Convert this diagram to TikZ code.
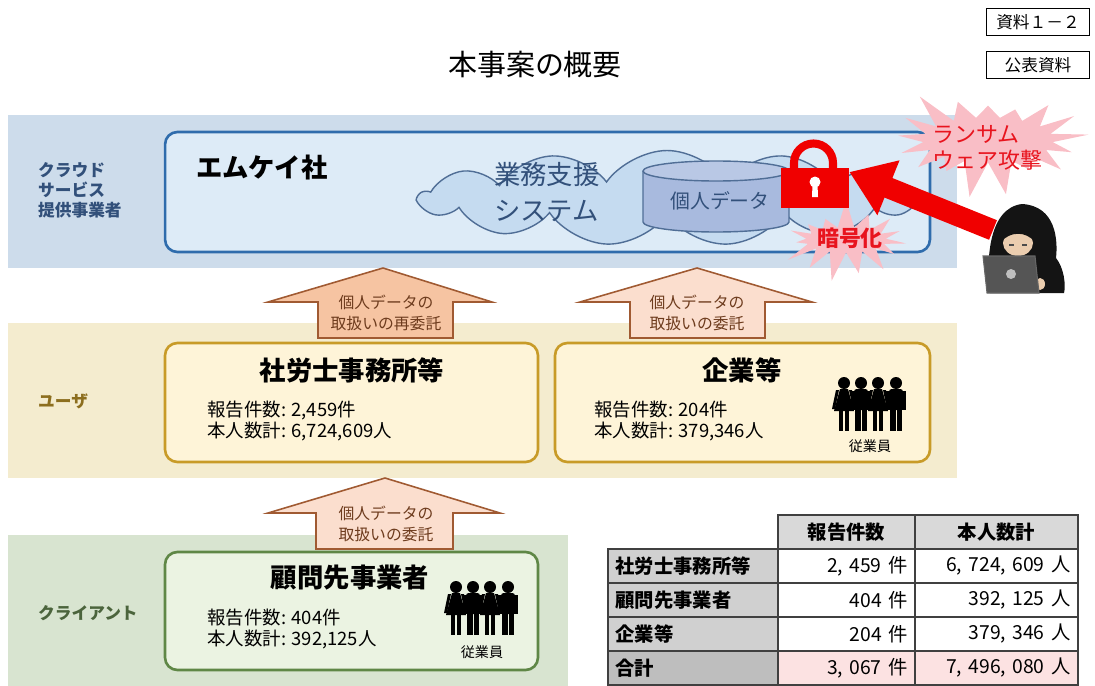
\documentclass[tikz,border=0pt]{standalone}
\usepackage{fontspec}
\setmainfont{Noto Sans CJK JP}
\usetikzlibrary{shapes.symbols,shapes.geometric,arrows.meta,positioning}

\definecolor{cloudband}{RGB}{205,220,235}
\definecolor{cloudboxfill}{RGB}{221,235,247}
\definecolor{cloudboxline}{RGB}{47,108,172}
\definecolor{cloudfill}{RGB}{197,219,240}
\definecolor{cloudline}{RGB}{80,110,150}
\definecolor{cloudtxt}{RGB}{50,80,122}
\definecolor{dbfill}{RGB}{168,186,222}
\definecolor{userband}{RGB}{244,236,207}
\definecolor{userfill}{RGB}{254,244,216}
\definecolor{userline}{RGB}{200,155,40}
\definecolor{usertxt}{RGB}{140,110,30}
\definecolor{clientband}{RGB}{216,228,208}
\definecolor{clientfill}{RGB}{235,243,226}
\definecolor{clientline}{RGB}{95,135,70}
\definecolor{clienttxt}{RGB}{75,100,60}
\definecolor{arrowdark}{RGB}{246,196,162}
\definecolor{arrowlight}{RGB}{251,222,206}
\definecolor{arrowline}{RGB}{160,90,50}
\definecolor{arrowtxt}{RGB}{110,60,30}
\definecolor{burstpink}{RGB}{249,190,198}
\definecolor{alertred}{RGB}{232,20,30}
\definecolor{lockred}{RGB}{240,0,0}
\definecolor{skin}{RGB}{235,205,175}
\definecolor{laptop}{RGB}{85,85,85}
\definecolor{headgray}{RGB}{217,217,217}
\definecolor{labelgray}{RGB}{208,208,208}
\definecolor{sumgray}{RGB}{190,190,190}
\definecolor{sumpink}{RGB}{252,226,226}

\tikzset{
  % four staff members holding hands
  woman/.pic={
    \fill (0,-21) circle[radius=6];
    \fill (-4,-15) -- (4,-15) -- (10,7) -- (-10,7) -- cycle;
    \fill (-5,5) rectangle (-1,27);
    \fill (1,5) rectangle (5,27);
    \fill (-8,-14) -- (-5,-14) -- (-9,5) -- (-12,5) -- cycle;
    \fill (8,-14) -- (5,-14) -- (9,5) -- (12,5) -- cycle;
  },
  man/.pic={
    \fill (0,-21) circle[radius=6];
    \fill[rounded corners=1.5pt] (-7,-15) rectangle (7,6);
    \fill (-6,5) rectangle (-0.5,27);
    \fill (0.5,5) rectangle (6,27);
    \fill (-10,-13) rectangle (-6,6);
    \fill (6,-13) rectangle (10,6);
  },
  staff/.pic={
    \pic at (-26,0) {woman};
    \pic at (-9,0) {man};
    \pic at (8,0) {woman};
    \pic at (26,0) {man};
  },
}

\begin{document}
\begin{tikzpicture}[
    x=0.02cm, y=-0.02cm,
    corpbox/.style={draw, rounded corners=7pt, line width=1.5pt},
    boxtitle/.style={font=\bfseries\fontsize{15}{18}\selectfont},
    figures/.style={anchor=west, align=left, font=\fontsize{10.5}{12.5}\selectfont},
    sidelabel/.style={anchor=west, align=left, font=\bfseries\fontsize{9.5}{11.3}\selectfont},
    arrowtext/.style={align=center, text=arrowtxt, font=\fontsize{9}{12}\selectfont},
    bigarrow/.style={draw=arrowline, line width=0.9pt},
    burst/.style={starburst, fill=burstpink, draw=none, text=alertred, inner sep=0pt},
    staffnote/.style={font=\fontsize{8}{9}\selectfont},
    tag/.style={draw, line width=1.1pt, minimum width=2.06cm, minimum height=0.54cm,
      inner sep=0pt, font=\fontsize{9.5}{11}\selectfont},
    cell/.style={draw=black!75, line width=0.8pt, minimum height=0.68cm, inner sep=0pt,
      font=\fontsize{11}{13}\selectfont},
    namecell/.style={cell, minimum width=3.4cm, text width=3.1cm, align=left, font=\bfseries\fontsize{11}{13}\selectfont},
    countcell/.style={cell, minimum width=2.74cm, text width=2.44cm, align=right},
    personcell/.style={cell, minimum width=3.26cm, text width=2.96cm, align=right},
]
\useasboundingbox (0,0) rectangle (1095,686);

% heading and tags
\node[font=\fontsize{16.5}{20}\selectfont] (title) at (535,65) {本事案の概要};
\node[tag] (docno) at (1038,22) {資料１－２};
\node[tag] (public) at (1038,65) {公表資料};

% bands
\fill[cloudband] (8,115) rectangle (957,268);
\fill[userband] (8,323) rectangle (957,478);
\fill[clientband] (8,535) rectangle (568,690);

\node[sidelabel, text=cloudtxt] (cloudlabel) at (32,190) {クラウド\\サービス\\提供事業者};
\node[sidelabel, text=usertxt] (userlabel) at (32,401) {ユーザ};
\node[sidelabel, text=clienttxt] (clientlabel) at (32,613) {クライアント};

% cloud provider
\node[corpbox, draw=cloudboxline, fill=cloudboxfill, minimum width=15.3cm, minimum height=2.4cm] (mk) at (547.5,192) {};
\node[boxtitle, anchor=west] (mkname) at (190,168) {エムケイ社};

\node[cloud, cloud puffs=13, cloud puff arc=110, aspect=5, fill=cloudfill, draw=cloudline,
  line width=0.8pt, minimum width=9.9cm, minimum height=1.9cm] (system) at (667,198) {};
\node[anchor=west, align=left, text=cloudtxt, font=\fontsize{15}{20}\selectfont] (systemname) at (488,192) {業務支援\\システム};

% database
\filldraw[fill=dbfill, draw=cloudline, line width=0.8pt] (643,171) -- (643,222) arc[start angle=180, end angle=0, x radius=73, y radius=10] -- (789,171);
\filldraw[fill=dbfill!80!white, draw=cloudline, line width=0.8pt] (716,171) ellipse[x radius=73, y radius=10];
\node[text=cloudtxt, font=\fontsize{11.3}{13}\selectfont] (db) at (720,201) {個人データ};

% ransomware
\node[burst, starburst points=15, starburst point height=0.6cm, random starburst=7,
  minimum width=2.8cm, minimum height=1.7cm] (crypt) at (846,240) {};
\node[text=alertred, font=\bfseries\fontsize{12.5}{14}\selectfont] (cryptlabel) at (850,238) {暗号化};
\node[burst, starburst points=17, starburst point height=0.75cm, random starburst=3,
  minimum width=4.1cm, minimum height=2.4cm] (attack) at (988,140) {};
\node[anchor=west, align=left, text=alertred, font=\fontsize{12.5}{14.5}\selectfont] (attacklabel) at (926,148) {ランサム\\ウェア攻撃};

% lock
\draw[lockred, line width=4.6pt] (794,170) -- (794,163) arc[start angle=180, end angle=360, radius=19.5] -- (833,170);
\node[fill=lockred, minimum width=1.36cm, minimum height=0.8cm, inner sep=0pt] (lock) at (815,188) {};
\fill[white] (815,182) circle[radius=5.5];
\fill[white] (812.5,184) -- (817.5,184) -- (818,197) -- (812,197) -- cycle;

% attacker
\coordinate (hand) at (993,230);
\coordinate (hacker) at (1024,250);
\draw[lockred, line width=12pt, -{Triangle[length=24pt, width=32pt]}] (hand) -- (lock.east |- 0,172);
\fill[black!92] (990,293) .. controls (986,262) and (988,208) .. (1022,204)
  .. controls (1056,206) and (1058,240) .. (1056,258) .. controls (1064,268) and (1066,285) .. (1064,293) -- cycle;
\fill[skin] (1018,243) ellipse[x radius=15, y radius=13];
\fill[black!92] (1001,242) .. controls (1003,222) and (1033,222) .. (1035,242)
  .. controls (1026,231) and (1010,231) .. cycle;
\draw[black!70, line width=0.6pt] (1009,245) -- (1014,245) (1022,245) -- (1027,245);
\fill[skin] (1040,284) ellipse[x radius=5, y radius=6];
\filldraw[fill=laptop, draw=black!60, line width=0.6pt] (983,256) -- (1035,256) -- (1039,293) -- (987,293) -- cycle;
\fill[black!25] (1011,274) circle[radius=5];

% hand-over arrows
\filldraw[bigarrow, fill=arrowdark] (383,268) -- (492,302) -- (453,302) -- (453,338) -- (318,338) -- (318,302) -- (268,302) -- cycle;
\node[arrowtext] (resub) at (386,313) {個人データの\\取扱いの再委託};
\filldraw[bigarrow, fill=arrowlight] (697,268) -- (812,302) -- (765,302) -- (765,338) -- (630,338) -- (630,302) -- (580,302) -- cycle;
\node[arrowtext] (sub1) at (697,313) {個人データの\\取扱いの委託};
\filldraw[bigarrow, fill=arrowlight] (385,478) -- (500,513) -- (453,513) -- (453,549) -- (316,549) -- (316,513) -- (268,513) -- cycle;
\node[arrowtext] (sub2) at (386,524) {個人データの\\取扱いの委託};

% users
\node[corpbox, draw=userline, fill=userfill, minimum width=7.46cm, minimum height=2.38cm] (sharou) at (351.5,402.5) {};
\node[boxtitle] (sharouname) at (352,370) {社労士事務所等};
\node[figures] (sharoufig) at (201,421) {報告件数: 2,459件\\本人数計: 6,724,609人};

\node[corpbox, draw=userline, fill=userfill, minimum width=7.5cm, minimum height=2.38cm] (kigyo) at (742.5,402.5) {};
\node[boxtitle] (kigyoname) at (742,370) {企業等};
\node[figures] (kigyofig) at (588,421) {報告件数: 204件\\本人数計: 379,346人};
\pic at (870,404) {staff};
\node[staffnote] (kigyostaff) at (870,446) {従業員};

% clients
\node[corpbox, draw=clientline, fill=clientfill, minimum width=7.46cm, minimum height=2.36cm] (komon) at (351.5,611) {};
\node[boxtitle] (komonname) at (350,578) {顧問先事業者};
\node[figures] (komonfig) at (201,629) {報告件数: 404件\\本人数計: 392,125人};
\pic at (482,608) {staff};
\node[staffnote] (komonstaff) at (482,652) {従業員};

% summary table
\node[cell, fill=headgray, minimum width=2.74cm, font=\bfseries\fontsize{11}{13}\selectfont] (hcount) at (846.5,532) {報告件数};
\node[cell, fill=headgray, minimum width=3.26cm, font=\bfseries\fontsize{11}{13}\selectfont] (hperson) at (996.5,532) {本人数計};

\node[namecell, fill=labelgray] (n1) at (693,566) {社労士事務所等};
\node[countcell, fill=white] (c1) at (846.5,566) {2, 459 件};
\node[personcell, fill=white] (p1) at (996.5,566) {6, 724, 609 人};

\node[namecell, fill=labelgray] (n2) at (693,600) {顧問先事業者};
\node[countcell, fill=white] (c2) at (846.5,600) {404 件};
\node[personcell, fill=white] (p2) at (996.5,600) {392, 125 人};

\node[namecell, fill=labelgray] (n3) at (693,634) {企業等};
\node[countcell, fill=white] (c3) at (846.5,634) {204 件};
\node[personcell, fill=white] (p3) at (996.5,634) {379, 346 人};

\node[namecell, fill=sumgray] (n4) at (693,668) {合計};
\node[countcell, fill=sumpink] (c4) at (846.5,668) {3, 067 件};
\node[personcell, fill=sumpink] (p4) at (996.5,668) {7, 496, 080 人};
\end{tikzpicture}
\end{document}
